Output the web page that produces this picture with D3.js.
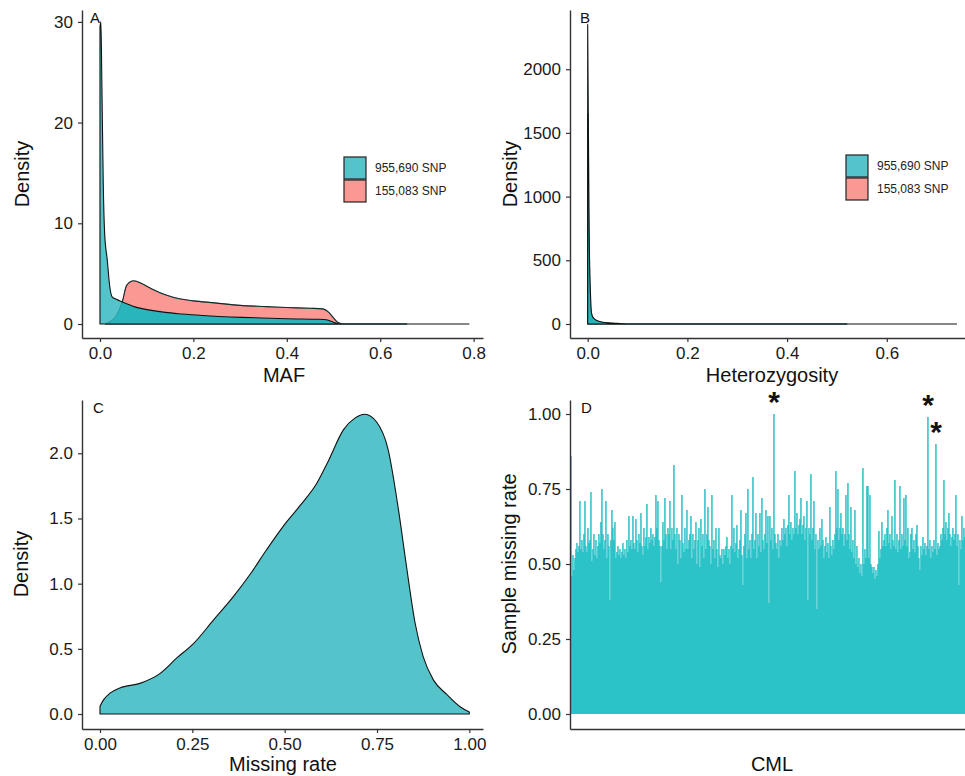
<!DOCTYPE html>
<html>
<head>
<meta charset="utf-8">
<script src="https://cdn.jsdelivr.net/npm/d3@7"></script>
<style>
  body { margin: 0; background: #fff; }
  text { font-family: "Liberation Sans", Arial, Helvetica, sans-serif; }
</style>
</head>
<body>
<script>
// legend / series names
const legendLabels = ["955,690 SNP", "155,083 SNP"]

// A: MAF density, [maf, density]
const mafAll = [[0, 29.5], [0.002, 30], [0.004, 24], [0.007, 14], [0.01, 9], [0.0156, 6.35], [0.021, 3.7],
  [0.026, 2.7], [0.035, 2.45], [0.047, 2.2], [0.075, 1.7], [0.104, 1.4], [0.14, 1.15], [0.175, 1.0],
  [0.22, 0.85], [0.304, 0.66], [0.4, 0.52], [0.47, 0.47], [0.485, 0.42], [0.5, 0.18], [0.51, 0.03],
  [0.52, 0], [0.79, 0]]
const mafFiltered = [[0.012, 0], [0.025, 0.3], [0.035, 0.8], [0.045, 1.8], [0.05, 2.6], [0.055, 3.6],
  [0.062, 4.1], [0.072, 4.3], [0.09, 4.0], [0.11, 3.5], [0.14, 2.9], [0.17, 2.5], [0.2, 2.3], [0.246, 2.1],
  [0.3, 1.85], [0.357, 1.73], [0.4, 1.64], [0.45, 1.56], [0.477, 1.5], [0.49, 1.15], [0.5, 0.6],
  [0.508, 0.2], [0.515, 0.05], [0.52, 0], [0.657, 0]]

// B: heterozygosity density
const hetAll = [[0, 2350], [0.0012, 1650], [0.003, 700], [0.005, 320], [0.008, 80], [0.012, 45],
  [0.02, 25], [0.03, 14], [0.045, 8], [0.06, 5], [0.072, 2], [0.075, 0], [0.74, 0]]
const hetFiltered = [[0, 1650], [0.001, 1200], [0.003, 300], [0.006, 90], [0.01, 50], [0.02, 20],
  [0.035, 8], [0.055, 4], [0.07, 1], [0.075, 0], [0.52, 0]]

// C: missing rate density
const missingDensity = [[0, 0.06], [0.01, 0.11], [0.027, 0.16], [0.054, 0.2], [0.108, 0.235],
  [0.162, 0.31], [0.208, 0.43], [0.253, 0.54], [0.307, 0.72], [0.361, 0.9], [0.406, 1.07],
  [0.451, 1.26], [0.496, 1.44], [0.542, 1.6], [0.587, 1.77], [0.618, 1.94], [0.659, 2.18],
  [0.69, 2.27], [0.717, 2.3], [0.749, 2.24], [0.78, 2.03], [0.808, 1.57], [0.83, 1.13],
  [0.853, 0.7], [0.875, 0.44], [0.903, 0.26], [0.939, 0.15], [0.975, 0.056], [1.0, 0.015]]

// D: missing rate per CML sample
const sampleMissing = [
  0.86,0.46,0.53,0.48,0.52,0.55,0.57,0.54,0.56,0.71,
  0.55,0.58,0.54,0.60,0.71,0.56,0.54,0.62,0.57,0.58,
  0.74,0.51,0.55,0.60,0.53,0.58,0.52,0.56,0.60,0.57,
  0.64,0.75,0.60,0.55,0.58,0.71,0.52,0.60,0.56,0.38,
  0.58,0.68,0.62,0.58,0.64,0.52,0.54,0.56,0.53,0.55,
  0.52,0.54,0.57,0.53,0.55,0.52,0.58,0.54,0.66,0.56,
  0.58,0.55,0.66,0.57,0.55,0.65,0.58,0.54,0.60,0.57,
  0.67,0.56,0.53,0.62,0.56,0.59,0.70,0.55,0.59,0.57,
  0.62,0.58,0.60,0.56,0.59,0.73,0.62,0.71,0.58,0.56,
  0.44,0.56,0.64,0.58,0.72,0.60,0.55,0.62,0.60,0.71,
  0.55,0.62,0.58,0.83,0.60,0.55,0.62,0.50,0.60,0.58,
  0.52,0.73,0.57,0.54,0.62,0.55,0.68,0.55,0.58,0.60,
  0.66,0.52,0.60,0.55,0.58,0.64,0.50,0.58,0.62,0.49,
  0.65,0.56,0.60,0.52,0.75,0.55,0.60,0.69,0.58,0.56,
  0.50,0.73,0.55,0.58,0.52,0.62,0.55,0.49,0.62,0.53,
  0.52,0.55,0.50,0.55,0.53,0.56,0.59,0.52,0.55,0.50,
  0.56,0.73,0.55,0.62,0.54,0.57,0.63,0.52,0.55,0.58,
  0.68,0.53,0.43,0.56,0.60,0.67,0.52,0.75,0.55,0.58,
  0.52,0.60,0.79,0.55,0.58,0.67,0.52,0.60,0.56,0.67,
  0.54,0.72,0.58,0.55,0.60,0.68,0.57,0.66,0.37,0.66,
  0.58,0.62,0.55,1.00,0.60,0.57,0.55,0.60,0.52,0.58,
  0.56,0.62,0.58,0.65,0.60,0.62,0.56,0.63,0.73,0.60,
  0.64,0.58,0.62,0.60,0.81,0.62,0.67,0.60,0.63,0.65,
  0.72,0.60,0.63,0.66,0.58,0.62,0.71,0.38,0.62,0.60,
  0.80,0.58,0.62,0.71,0.55,0.60,0.35,0.58,0.55,0.62,
  0.56,0.65,0.58,0.52,0.56,0.59,0.54,0.57,0.52,0.69,
  0.56,0.53,0.58,0.55,0.60,0.81,0.62,0.75,0.58,0.62,
  0.67,0.60,0.62,0.56,0.60,0.73,0.58,0.77,0.60,0.55,
  0.69,0.54,0.58,0.52,0.68,0.50,0.56,0.49,0.52,0.47,
  0.50,0.46,0.82,0.50,0.55,0.52,0.76,0.76,0.52,0.73,
  0.50,0.49,0.47,0.49,0.45,0.48,0.46,0.50,0.61,0.52,
  0.55,0.64,0.56,0.58,0.60,0.56,0.62,0.68,0.57,0.60,
  0.55,0.66,0.58,0.56,0.78,0.55,0.60,0.54,0.58,0.76,
  0.55,0.60,0.56,0.72,0.58,0.73,0.56,0.62,0.52,0.54,
  0.60,0.62,0.55,0.58,0.54,0.60,0.63,0.56,0.52,0.48,
  0.56,0.53,0.59,0.55,0.57,0.53,0.56,0.99,0.55,0.58,
  0.52,0.56,0.54,0.58,0.55,0.90,0.53,0.57,0.55,0.56,
  0.60,0.58,0.62,0.78,0.60,0.64,0.58,0.62,0.67,0.60,
  0.56,0.59,0.62,0.58,0.60,0.73,0.56,0.60,0.43,0.58,
  0.55,0.66,0.58,0.62,0.59]
// samples marked with an asterisk
const flagged = [203, 357, 365]

// tick values
const mafTicks = [0, 0.2, 0.4, 0.6, 0.8]
const mafDensityTicks = [0, 10, 20, 30]
const hetTicks = [0, 0.2, 0.4, 0.6]
const hetDensityTicks = [0, 500, 1000, 1500, 2000]
const missingTicks = [0, 0.25, 0.5, 0.75, 1.0]
const missingDensityTicks = [0, 0.5, 1.0, 1.5, 2.0]
const sampleTicks = [0, 0.25, 0.5, 0.75, 1.0]

const tealFill = '#19B0B7'
const redFill = '#F8766D'
const alpha = 0.74

let svg = d3.select('body').append('svg')
    .attr('width', 965)
    .attr('height', 776)
    .style('background', '#fff')
let defs = svg.append('defs')

// axes in the ggplot classic look
function styleAxis(g) {
    g.selectAll('.domain').attr('stroke', '#333').attr('stroke-width', 1.4)
    g.selectAll('.tick line').attr('stroke', '#333').attr('stroke-width', 1.2)
    g.selectAll('.tick text')
        .attr('fill', '#1a1a1a')
        .style('font-size', '17px')
        .style('font-family', '"Liberation Sans", Arial, sans-serif')
}

function axes(x, y, xTicks, yTicks, xFmt, yFmt) {
    let xr = x.range(), yr = y.range()
    svg.append('g')
        .attr('transform', `translate(0,${yr[0]})`)
        .call(d3.axisBottom(x).tickValues(xTicks).tickFormat(xFmt).tickSize(4).tickPadding(5).tickSizeOuter(0))
        .call(styleAxis)
    svg.append('g')
        .attr('transform', `translate(${xr[0]},0)`)
        .call(d3.axisLeft(y).tickValues(yTicks).tickFormat(yFmt).tickSize(4).tickPadding(5).tickSizeOuter(0))
        .call(styleAxis)
}

function axisTitles(xt, xx, xy, yt, yx, yy, letter, lx, ly) {
    svg.append('text').attr('x', xx).attr('y', xy).attr('text-anchor', 'middle')
        .style('font-size', '20px').attr('fill', '#111').text(xt)
    svg.append('text').attr('transform', `translate(${yx},${yy}) rotate(-90)`).attr('text-anchor', 'middle')
        .style('font-size', '20px').attr('fill', '#111').text(yt)
    svg.append('text').attr('x', lx).attr('y', ly)
        .style('font-size', '15px').attr('fill', '#111').text(letter)
}

function areaGen(x, y) {
    return d3.area()
        .curve(d3.curveMonotoneX)
        .x(d => x(d[0]))
        .y0(y(0))
        .y1(d => y(d[1]))
}

function density(data, x, y, fill) {
    return svg.append('path')
        .datum(data)
        .attr('d', areaGen(x, y))
        .attr('fill', fill)
        .attr('fill-opacity', alpha)
        .attr('stroke', '#111')
        .attr('stroke-width', 1.1)
        .attr('stroke-linejoin', 'round')
}

// two overlapping densities: where the second lies inside the first,
// the teal is laid twice (darker teal as in the original)
function densityPair(back, front, x, y, id) {
    density(back, x, y, redFill)
    defs.append('clipPath').attr('id', id)
        .append('path').attr('d', areaGen(x, y)(back))
    svg.append('path').datum(front).attr('d', areaGen(x, y))
        .attr('clip-path', `url(#${id})`).attr('fill', '#fff')
    svg.append('path').datum(front).attr('d', areaGen(x, y))
        .attr('clip-path', `url(#${id})`).attr('fill', tealFill).attr('fill-opacity', alpha)
    svg.append('path').datum(back).attr('d', areaGen(x, y))
        .attr('fill', 'none').attr('stroke', '#0a6f73').attr('stroke-opacity', 0.35).attr('stroke-width', 1)
    density(front, x, y, tealFill)
}

function legend(x0, y0) {
    let fills = [tealFill, redFill]
    legendLabels.forEach((lab, i) => {
        svg.append('rect')
            .attr('x', x0).attr('y', y0 + i * 23)
            .attr('width', 22).attr('height', 22)
            .attr('fill', fills[i]).attr('fill-opacity', alpha)
            .attr('stroke', '#222').attr('stroke-width', 1.2)
        svg.append('text')
            .attr('x', x0 + 31).attr('y', y0 + i * 23 + 15)
            .style('font-size', '12px').attr('fill', '#222')
            .text(lab)
    })
}

// ---- A
let xA = d3.scaleLinear().domain([-0.0385, 0.8201]).range([82, 483])
let yA = d3.scaleLinear().domain([-1.39, 31.18]).range([338, 10])
densityPair(mafFiltered, mafAll, xA, yA, 'clipA')
axes(xA, yA, mafTicks, mafDensityTicks, d3.format('.1f'), d3.format('d'))
axisTitles('MAF', 284, 382, 'Density', 29, 174, 'A', 90, 23)
legend(344, 157)

// ---- B
let xB = d3.scaleLinear().domain([-0.0355, 0.777]).range([570, 975])
let yB = d3.scaleLinear().domain([-110, 2465]).range([338, 10])
densityPair(hetFiltered, hetAll, xB, yB, 'clipB')
axes(xB, yB, hetTicks, hetDensityTicks, d3.format('.1f'), d3.format('d'))
axisTitles('Heterozygosity', 772, 382, 'Density', 517, 174, 'B', 580, 23)
legend(846, 155)

// ---- C
let xC = d3.scaleLinear().domain([-0.0487, 1.037]).range([82, 483])
let yC = d3.scaleLinear().domain([-0.115, 2.409]).range([729, 400])
density(missingDensity, xC, yC, tealFill)
axes(xC, yC, missingTicks, missingDensityTicks, d3.format('.2f'), d3.format('.1f'))
axisTitles('Missing rate', 283, 771, 'Density', 28, 564, 'C', 93, 413)

// ---- D
let xD = d3.scaleBand().domain(d3.range(sampleMissing.length)).range([570, 965])
let yD = d3.scaleLinear().domain([-0.05, 1.0467]).range([729, 400])
svg.append('g').selectAll('rect')
    .data(sampleMissing)
    .join('rect')
    .attr('x', (d, i) => xD(i))
    .attr('width', xD.step() * 1.85)
    .attr('y', d => yD(d))
    .attr('height', d => yD(0) - yD(d))
    .attr('fill', '#17BCC3')
    .attr('fill-opacity', 0.75)
let xDline = d3.scaleLinear().domain([0, 1]).range([570, 975])
axes(xDline, yD, [], sampleTicks, d3.format('.2f'), d3.format('.2f'))
axisTitles('CML', 772, 771, 'Sample missing rate', 516, 564, 'D', 581, 413)

svg.append('g').selectAll('text')
    .data(flagged)
    .join('text')
    .attr('x', i => xD(i) + xD.step())
    .attr('y', i => yD(sampleMissing[i]) - 2)
    .attr('text-anchor', 'middle')
    .style('font-size', '30px')
    .style('font-weight', 'bold')
    .attr('fill', '#111')
    .text('*')
</script>
</body>
</html>
